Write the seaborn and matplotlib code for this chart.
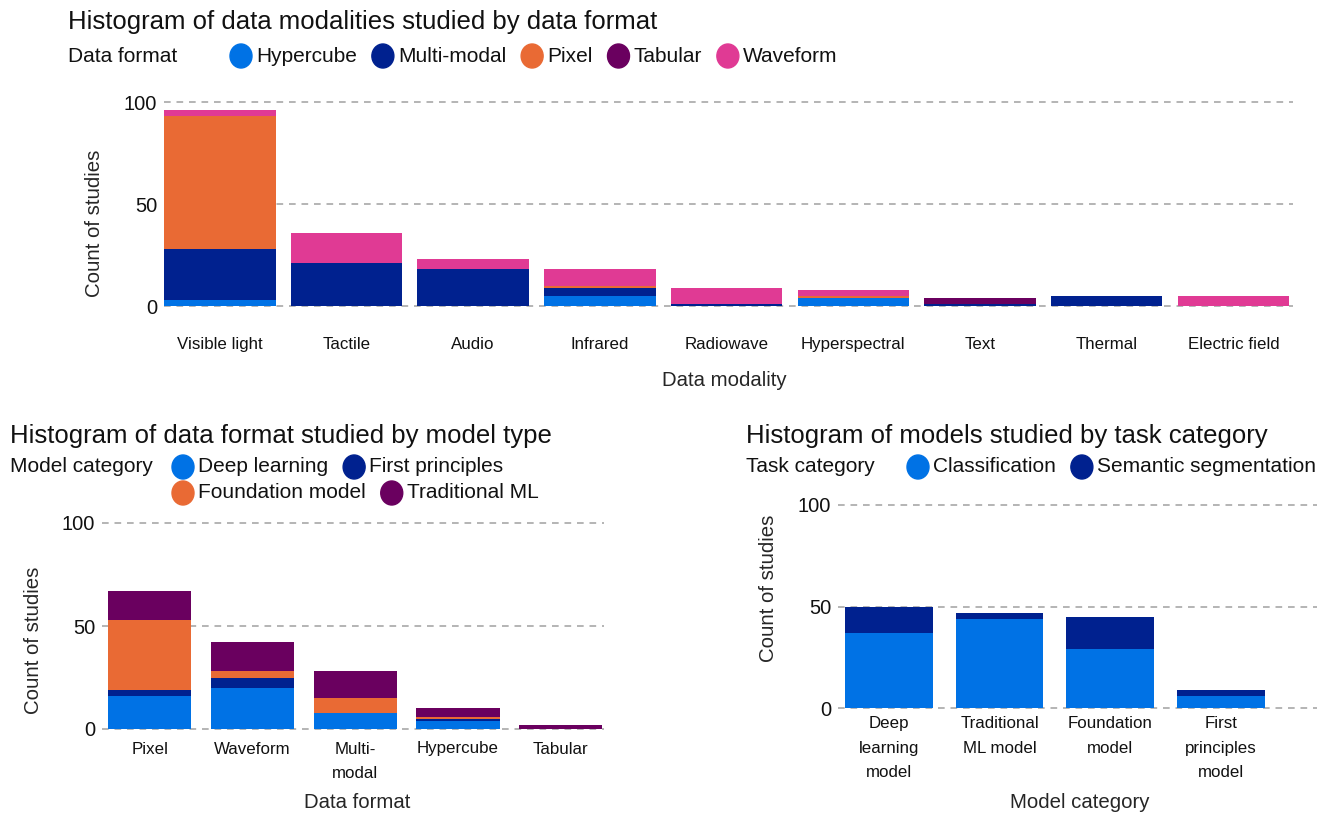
import numpy as np
import pandas as pd
import matplotlib
matplotlib.use("Agg")
import matplotlib.pyplot as plt
import seaborn as sns
from matplotlib.patches import Ellipse

# ---- data ----
modalities = ["Visible light", "Tactile", "Audio", "Infrared", "Radiowave",
              "Hyperspectral", "Text", "Thermal", "Electric field"]
fmt_hypercube = [3, 0, 0, 5, 0, 4, 0, 0, 0]
fmt_multimodal = [25, 21, 18, 4, 1, 0, 1, 5, 0]
fmt_pixel = [65, 0, 0, 1, 0, 1, 0, 0, 0]
fmt_tabular = [0, 0, 0, 0, 0, 0, 3, 0, 0]
fmt_waveform = [3, 15, 5, 8, 8, 3, 0, 0, 5]

data_formats = ["Pixel", "Waveform", "Multi-\nmodal", "Hypercube", "Tabular"]
mdl_deep = [16, 20, 8, 4, 0]
mdl_first = [3, 5, 0, 1, 0]
mdl_foundation = [34, 3, 7, 1, 0]
mdl_traditional = [14, 14, 13, 4, 2]

model_cats = ["Deep\nlearning\nmodel", "Traditional\nML model", "Foundation\nmodel",
              "First\nprinciples\nmodel"]
task_classification = [37, 44, 29, 6]
task_segmentation = [13, 3, 16, 3]

BLUE, NAVY, ORANGE, PURPLE, PINK = "#0072E5", "#00218F", "#E96A34", "#6A005F", "#E03A94"

sns.set_style("white")
plt.rcParams["font.family"] = ["Liberation Sans", "DejaVu Sans"]
plt.rcParams["text.color"] = "#111111"

W, H = 1319, 816
fig = plt.figure(figsize=(W / 100, H / 100), dpi=100)


def px(x):
    return x / W


def py(y):
    return 1 - y / H


def make_axes(l, r, t, b):
    return fig.add_axes([px(l), py(b), px(r - l), (b - t) / H])


def stacked(ax, cats, layers, width):
    # draw cumulative tops from the highest layer down so lower layers sit on top
    df = pd.DataFrame({name: vals for name, vals, _ in layers}, index=cats)
    cum = df.cumsum(axis=1)
    for name, _, color in reversed(layers):
        sns.barplot(x=list(cats), y=cum[name].values, color=color, width=width,
                    saturation=1, linewidth=0, ax=ax)


def style(ax, xlim, xpad, xlabel, xlab_pos, ylab_pos):
    ax.set_xlim(*xlim)
    ax.set_ylim(0, 100)
    ax.set_yticks([0, 50, 100])
    sns.despine(ax=ax, left=True, bottom=True)
    ax.set_axisbelow(True)
    ax.grid(axis="y", color="#A8A8A8", linestyle=(0, (4, 3.5)), linewidth=1.2)
    ax.grid(axis="x", visible=False)
    for gl in ax.get_ygridlines():
        gl.set_clip_on(False)
    ax.tick_params(axis="x", length=0, pad=xpad, labelsize=12.2, colors="#111111")
    ax.tick_params(axis="y", length=0, pad=5, labelsize=14.5, colors="#111111")
    for lbl in ax.get_xticklabels():
        lbl.set_linespacing(1.8)
    ax.set_xlabel(xlabel, fontsize=14.7)
    ax.set_ylabel("Count of studies", fontsize=14.7)
    ax.xaxis.set_label_coords(px(xlab_pos[0]), py(xlab_pos[1]), transform=fig.transFigure)
    ax.yaxis.set_label_coords(px(ylab_pos[0]), py(ylab_pos[1]), transform=fig.transFigure)
    ax.xaxis.label.set_va("center")
    ax.yaxis.label.set_va("center")


def legend(title, x_title, x_marker, rows, ys, fs=15):
    renderer = fig.canvas.get_renderer()
    fig.text(px(x_title), py(ys[0]), title, ha="left", va="center", fontsize=fs)
    for y, row in zip(ys, rows):
        xc = x_marker
        for label, color in row:
            fig.add_artist(Ellipse((px(xc), py(y)), 22 / W, 24 / H,
                                   transform=fig.transFigure, color=color))
            t = fig.text(px(xc + 15), py(y), label, ha="left", va="center", fontsize=fs)
            xc = t.get_window_extent(renderer).x1 + 26


# ---- top: data modality by data format ----
ax1 = make_axes(164, 1293, 102, 306)
stacked(ax1, modalities, [("Hypercube", fmt_hypercube, BLUE),
                          ("Multi-modal", fmt_multimodal, NAVY),
                          ("Pixel", fmt_pixel, ORANGE),
                          ("Tabular", fmt_tabular, PURPLE),
                          ("Waveform", fmt_waveform, PINK)], 0.88)
style(ax1, (-0.44, 8.47), 22, "Data modality", (724, 381), (95, 223))
fig.text(px(68), py(22), "Histogram of data modalities studied by data format",
         ha="left", va="center", fontsize=18.5)
legend("Data format", 68, 241,
       [[("Hypercube", BLUE), ("Multi-modal", NAVY), ("Pixel", ORANGE),
         ("Tabular", PURPLE), ("Waveform", PINK)]], [56])

# ---- bottom left: data format by model type ----
ax2 = make_axes(102, 604, 523, 729)
stacked(ax2, data_formats, [("Deep learning", mdl_deep, BLUE),
                            ("First principles", mdl_first, NAVY),
                            ("Foundation model", mdl_foundation, ORANGE),
                            ("Traditional ML", mdl_traditional, PURPLE)], 0.81)
style(ax2, (-0.465, 4.42), 9, "Data format", (357, 802), (34, 640))
fig.text(px(10), py(436), "Histogram of data format studied by model type",
         ha="left", va="center", fontsize=18.5)
legend("Model category", 10, 183,
       [[("Deep learning", BLUE), ("First principles", NAVY)],
        [("Foundation model", ORANGE), ("Traditional ML", PURPLE)]], [467, 493])

# ---- bottom right: models by task category ----
ax3 = make_axes(838, 1317, 505, 708)
stacked(ax3, model_cats, [("Classification", task_classification, BLUE),
                          ("Semantic segmentation", task_segmentation, NAVY)], 0.795)
style(ax3, (-0.46, 3.87), 5.8, "Model category", (1080, 803), (769, 588))
fig.text(px(746), py(436), "Histogram of models studied by task category",
         ha="left", va="center", fontsize=18.5)
legend("Task category", 746, 918,
       [[("Classification", BLUE), ("Semantic segmentation", NAVY)]], [467])

fig.savefig("out.png", dpi=100)
